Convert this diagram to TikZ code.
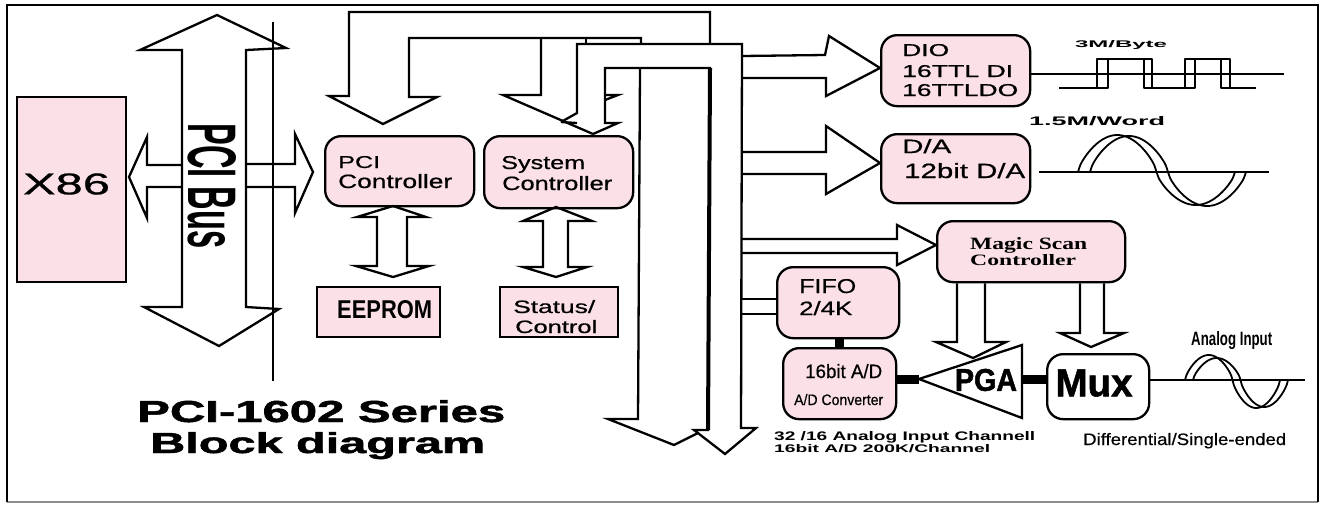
\documentclass[tikz,border=0pt]{standalone}
\usepackage{fontspec}
\usepackage{graphicx}
\setmainfont{Liberation Sans}
\newfontfamily\serifbold[BoldFont={Liberation Serif Bold}]{Liberation Serif}
\newfontfamily\heavyf[FakeBold=1.5]{Liberation Sans Bold}
\newfontfamily\semif[FakeBold=0.6]{Liberation Sans}
\newcommand\fitt[3]{\resizebox{#1pt}{#2pt}{#3}}
\definecolor{boxpink}{HTML}{FBE1E7}
\tikzset{
  ln/.style={draw=black,line width=2.3pt,line join=miter,line cap=butt},
  thin wave/.style={draw=black,line width=1.8pt,line join=round},
  rbox/.style={draw=black,line width=2.3pt,fill=boxpink,rounded corners=16pt,inner sep=0pt,anchor=north west},
  wbox/.style={rbox,fill=white},
  sbox/.style={draw=black,line width=2.3pt,fill=boxpink,inner sep=0pt,anchor=north west},
  lab/.style={inner sep=0pt,anchor=base west,text=black},
  clab/.style={inner sep=0pt,anchor=center,text=black},
  thick link/.style={draw=black,line width=9pt},
}
\newcommand\boxat[6]{\node[#1,minimum width=#4 pt,minimum height=#5 pt] (#2) at (#3) {#6};}
\newcommand\sinewave[5]{\draw[thin wave] plot[smooth,domain=0:360,samples=73]
  ({#1+\x/360*#3},{#2-(sin(\x)>0?#4:#5)*sign(sin(\x))*pow(abs(sin(\x)),0.7)});}
\begin{document}
\begin{tikzpicture}[x=1pt,y=-1pt]
\useasboundingbox (0,0) rectangle (1321,504);
\fill[white] (0,0) rectangle (1321,504);
% frame
\coordinate (f1) at (7,5); \coordinate (f2) at (1318,5);
\coordinate (f3) at (1318,502); \coordinate (f4) at (7,502);
\draw[draw=black!45,line width=1.5pt] (f3) -- (f4);
\draw[draw=black,line width=2.4pt] (f4) -- (f1) -- (f2) -- (f3);

% PCI bus double arrow
\draw[ln] (182,307) -- (182,50) -- (140,50) -- (217,15) -- (286,48) -- (246,50) -- (246,307) -- (279,309) -- (219,346) -- (144,307) -- cycle;
\coordinate (busT) at (273,22); \coordinate (busB) at (273,381);
\draw[ln] (busT) -- (busB);
\node[clab,rotate=-90] (pcibus) at (212,186) {\fitt{125}{48}{\bfseries PCI Bus}};

% blocks
\boxat{sbox}{x86}{16,96}{109}{185}{}
\node[clab] (x86t) at (66.5,184) {\fitt{87}{21}{\semif X86}};

\boxat{rbox}{pcic}{324,135}{149}{70}{}
\node[lab] (t1) at (338,168) {\fitt{42}{12}{\semif PCI}};
\node[lab] (t2) at (338,188) {\fitt{114}{14}{\semif Controller}};

\boxat{rbox}{sysc}{483,135}{149}{72}{}
\node[lab] (t3) at (501,169) {\fitt{84}{13}{\semif System}};
\node[lab] (t4) at (502,190) {\fitt{110}{14}{\semif Controller}};

\boxat{sbox}{eeprom}{316,286}{123}{50}{}
\node[lab] (t5) at (337,318) {\fitt{95}{18}{\bfseries EEPROM}};

\boxat{sbox}{stat}{499,286}{118}{50}{}
\node[lab] (t6) at (513,313) {\fitt{82}{13}{\semif Status/}};
\node[lab] (t7) at (515,333) {\fitt{82}{13}{\semif Control}};

\boxat{rbox}{dio}{880,34}{149}{71}{}
\node[lab] (t8) at (902,56) {\fitt{47}{12}{\semif DIO}};
\node[lab] (t9) at (902,77) {\fitt{111}{12}{\semif 16TTL DI}};
\node[lab] (t10) at (902,96) {\fitt{116}{12}{\semif 16TTLDO}};

\boxat{rbox}{da}{880,133}{149}{69}{}
\node[lab] (t11) at (902,153) {\fitt{49}{14}{\semif D/A}};
\node[lab] (t12) at (904,178) {\fitt{121}{15}{\semif 12bit D/A}};

\boxat{rbox}{magic}{936,220}{188}{61}{}
\node[lab] (t13) at (970,249) {\fitt{117}{12}{\serifbold\bfseries Magic Scan}};
\node[lab] (t14) at (970,265) {\fitt{106}{11}{\serifbold\bfseries Controller}};

\boxat{rbox}{fifo}{776,266}{122}{71}{}
\node[lab] (t15) at (799,293) {\fitt{57}{14}{\semif FIFO}};
\node[lab] (t16) at (799,315) {\fitt{53}{14}{\semif 2/4K}};

\boxat{rbox}{ad}{782,347}{113}{71}{}
\node[lab] (t17) at (805,378) {\fitt{77}{14}{\semif 16bit A/D}};
\node[lab] (t18) at (794,405) {\fitt{89}{11}{\semif A/D Converter}};

\coordinate (pgatip) at (919,379);
\coordinate (pgar) at (1022,379);
\draw[ln] (pgatip) -- (1022,345) -- (1022,418) -- cycle;
\node[clab] (pgat) at (986,380) {\fitt{62}{22}{\heavyf PGA}};

\boxat{wbox}{mux}{1046,353}{102}{65}{}
\node[clab] (muxt) at (1094,383) {\fitt{77}{27}{\heavyf Mux}};

% thick links
\draw[thick link] (fifo.south -| 839,0) -- (839,347);
\draw[thick link] (895,379) -- (pgatip);
\draw[thick link] (pgar) -- (mux.west |- pgar);

% side arrows X86 / PCI controller
\draw[ln] (182,165) -- (147,165) -- (147,137) -- (129,177) -- (147,218) -- (147,187) -- (182,187);
\draw[ln] (246,164) -- (295,164) -- (295,134) -- (313,172) -- (295,213) -- (295,187) -- (246,187);

% PCI controller <-> EEPROM
\draw[ln] (377,266) -- (377,217) -- (357,217) -- (393,206) -- (426,217) -- (407,217) -- (407,266) -- (429,266) -- (393,277) -- (356,266) -- cycle;
% System controller <-> Status
\draw[ln] (543,267) -- (543,221) -- (523,221) -- (556,207) -- (592,221) -- (568,221) -- (568,267) -- (587,267) -- (556,277) -- (523,267) -- cycle;

% large bus: arrow into PCI controller
\draw[ln] (710,44) -- (710,12) -- (349,12) -- (349,96) -- (329,96) -- (383,124) -- (437,97) -- (409,97) -- (409,38) -- (641,38) -- (641,44);
\draw[ln] (586,38) -- (586,44);
% arrow into System controller
\draw[ln] (541,38) -- (541,95) -- (503,95) -- (593,134);
% main bus, arrow back to System controller and long arrow down
\draw[ln] (561,122) -- (577,113) -- (577,44) -- (742,44) -- (741,428) -- (756,428) -- (725,454) -- (694,430) -- (708,430) -- (710,68) -- (605,68) -- (605,123) -- (618,123) -- (593,134);
\draw[ln] (561,122) -- (577,123);
\draw[ln] (605,100) -- (618,95) -- (605,95);
\draw[line width=4pt] (710,68) -- (708,430);
% second long arrow down
\draw[ln] (640,68) -- (638,419) -- (608,419) -- (674,445) -- (698,433);

% branches to the right
\draw[ln] (742,56) -- (825,55) -- (829,36) -- (dio.west |- 0,68) -- (826,96) -- (826,78) -- (742,78);
\draw[ln] (742,152) -- (826,152) -- (826,126) -- (da.west |- 0,163) -- (826,194) -- (826,174) -- (742,174);
\draw[ln] (741,239) -- (897,239) -- (897,225) -- (magic.west |- 0,245) -- (897,265) -- (897,253) -- (741,253);
\draw[ln] (741,299) -- (fifo.west |- 0,299);
\draw[ln] (741,314) -- (fifo.west |- 0,314);

% Magic scan to PGA and Mux
\draw[ln] (magic.south -| 957,0) -- (957,342) -- (936,342) -- (973,358) -- (1006,342) -- (985,342) -- (magic.south -| 985,0);
\draw[ln] (magic.south -| 1080,0) -- (1080,333) -- (1060,333) -- (1091,347) -- (1124,333) -- (1104,333) -- (magic.south -| 1104,0);

% waveforms
\coordinate (w1e) at (1284,74);
\draw[thin wave] (dio.east |- w1e) -- (w1e);
\draw[thin wave] (1059,88) -- (1097,88) -- (1097,59) -- (1144,59) -- (1144,88) -- (1185,88) -- (1185,59) -- (1221,59) -- (1221,88) -- (1256,88);
\draw[thin wave] (1059,88) -- (1108,88) -- (1108,59) -- (1152,59) -- (1152,88) -- (1195,88) -- (1195,59) -- (1230,59) -- (1230,88) -- (1256,88);
\node[clab] (t19) at (1121,45) {\fitt{92}{7}{\bfseries 3M/Byte}};
\node[clab] (t20) at (1097,121) {\fitt{136}{9}{\bfseries 1.5M/Word}};

\coordinate (w2a) at (1039,172); \coordinate (w2b) at (1269,172);
\draw[thin wave] (w2a) -- (w2b);
\sinewave{1078}{172}{157}{37}{33}
\sinewave{1090}{172}{156}{36}{34}

\coordinate (w3e) at (1305,380);
\draw[thin wave] (mux.east |- w3e) -- (w3e);
\sinewave{1185}{380}{95}{25}{28}
\sinewave{1193}{380}{95}{22}{27}
\node[lab] (t21) at (1191,345) {\fitt{81}{14}{\bfseries Analog Input}};

% captions
\node[lab] (t23) at (1083,445) {\fitt{203}{12}{\semif Differential/Single-ended}};
\node[lab] (t24) at (774,440) {\fitt{261}{9}{\bfseries 32 /16 Analog Input Channell}};
\node[lab] (t25) at (774,452) {\fitt{216}{8}{\bfseries 16bit A/D 200K/Channel}};
\node[lab] (t26) at (137,422) {\fitt{368}{22}{\heavyf PCI-1602 Series}};
\node[lab] (t27) at (150,453) {\fitt{335}{21}{\heavyf Block diagram}};
\end{tikzpicture}
\end{document}
